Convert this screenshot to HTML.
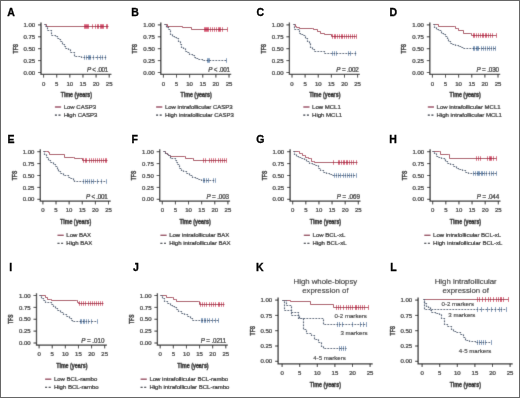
<!DOCTYPE html>
<html><head><meta charset="utf-8"><style>
html,body{margin:0;padding:0;background:#fff;}
svg{display:block;font-family:"Liberation Sans",sans-serif;}
#w{width:520px;height:398px;will-change:transform;}
text{fill:#222;stroke:#222;stroke-width:0.24px;}
text.t{stroke-width:0.12px;}
text.b{font-weight:bold;fill:#1a1a1a;stroke:#1a1a1a;stroke-width:0.38px;}
text.L{font-weight:bold;fill:#000;stroke:#000;stroke-width:0.3px;}
</style></head><body><div id="w">
<svg width="520" height="398" viewBox="0 0 520 398">
<defs><filter id="bl" x="0" y="0" width="520" height="398" filterUnits="userSpaceOnUse"><feConvolveMatrix order="3" kernelMatrix="0.02 0.12 0.02 0.12 1 0.12 0.02 0.12 0.02" preserveAlpha="true"/></filter></defs>
<g filter="url(#bl)">
<rect x="0" y="0" width="520" height="398" fill="#fff"/>
<path d="M41,22.4V74.4H111.4" fill="none" stroke="#2a2a2a" stroke-width="1.3"/>
<path d="M38,72.5H41M38,60.6H41M38,48.7H41M38,36.8H41M38,24.9H41M43.6,74.4V77.6M56.72,74.4V77.6M69.84,74.4V77.6M82.96,74.4V77.6M96.08,74.4V77.6M109.2,74.4V77.6" stroke="#2a2a2a" stroke-width="1"/>
<text x="35.1" y="74.65" text-anchor="end" font-size="6">0.00</text>
<text x="35.1" y="62.75" text-anchor="end" font-size="6">0.25</text>
<text x="35.1" y="50.85" text-anchor="end" font-size="6">0.50</text>
<text x="35.1" y="38.95" text-anchor="end" font-size="6">0.75</text>
<text x="35.1" y="27.05" text-anchor="end" font-size="6">1.00</text>
<text x="43.6" y="85.6" text-anchor="middle" font-size="6">0</text>
<text x="56.72" y="85.6" text-anchor="middle" font-size="6">5</text>
<text x="69.84" y="85.6" text-anchor="middle" font-size="6">10</text>
<text x="82.96" y="85.6" text-anchor="middle" font-size="6">15</text>
<text x="96.08" y="85.6" text-anchor="middle" font-size="6">20</text>
<text x="109.2" y="85.6" text-anchor="middle" font-size="6">25</text>
<text class="b" x="60.75" y="97.1" font-size="7.9" textLength="31.3" lengthAdjust="spacingAndGlyphs">Time (years)</text>
<text class="b" transform="translate(17.6,48.7) rotate(-90)" x="-4.7" y="0" font-size="7.9" textLength="9.4" lengthAdjust="spacingAndGlyphs">TFS</text>
<path d="M84.5,24.2v4.6M85.5,24.2v4.6M86.5,24.2v4.6M87.5,24.2v4.6M88.5,24.2v4.6M92.5,24.2v4.6M95.5,24.2v4.6M97.5,24.2v4.6M98.5,24.2v4.6M100.5,24.2v4.6M101.5,24.2v4.6M102.5,24.2v4.6M103.5,24.2v4.6M106.5,24.2v4.6M107.5,24.2v4.6" fill="none" stroke="#cc2248" stroke-width="0.75"/>
<path d="M44.5,24.5H46.5V26.5H108.5" fill="none" stroke="#a42a4a" stroke-width="1"/>
<path d="M84.5,55.2v4.6M86.5,55.2v4.6M88.5,55.2v4.6M89.5,55.2v4.6M90.5,55.2v4.6M93.5,55.2v4.6M97.5,55.2v4.6M100.5,55.2v4.6M102.5,55.2v4.6M105.5,55.2v4.6" fill="none" stroke="#4f78a6" stroke-width="0.75"/>
<path d="M44.5,24.5H45.5V26.5H47.5V29.5H47.5V30.5H49.5V30.5H51.5V32.5H51.5V35.5H53.5H55.5V36.5H57.5V38.5H59.5V39.5H60.5V41.5H62.5V44.5H64.5V46.5H65.5V48.5H68.5V49.5H70.5V52.5H73.5V52.5H74.5V56.5H80.5V56.5H81.5V57.5H106.5" fill="none" stroke="#223a5a" stroke-width="1.15" stroke-dasharray="1.7 1.3"/>
<text x="108.3" y="72.4" text-anchor="end" font-size="6.3" textLength="21.2" lengthAdjust="spacing"><tspan font-style="italic">P</tspan> &lt; .001</text>
<path d="M54.9,107h6.2" stroke="#8c2c48" stroke-width="1.3"/>
<path d="M54.9,115.1h6" stroke="#141c2a" stroke-width="1.3" stroke-dasharray="2 1.6"/>
<text x="63.7" y="109" font-size="6">Low CASP3</text>
<text x="63.7" y="117.1" font-size="6">High CASP3</text>
<path d="M160.8,22.4V74.4H231.2" fill="none" stroke="#2a2a2a" stroke-width="1.3"/>
<path d="M157.8,72.5H160.8M157.8,60.6H160.8M157.8,48.7H160.8M157.8,36.8H160.8M157.8,24.9H160.8M163.4,74.4V77.6M176.52,74.4V77.6M189.64,74.4V77.6M202.76,74.4V77.6M215.88,74.4V77.6M229,74.4V77.6" stroke="#2a2a2a" stroke-width="1"/>
<text x="154.9" y="74.65" text-anchor="end" font-size="6">0.00</text>
<text x="154.9" y="62.75" text-anchor="end" font-size="6">0.25</text>
<text x="154.9" y="50.85" text-anchor="end" font-size="6">0.50</text>
<text x="154.9" y="38.95" text-anchor="end" font-size="6">0.75</text>
<text x="154.9" y="27.05" text-anchor="end" font-size="6">1.00</text>
<text x="163.4" y="85.6" text-anchor="middle" font-size="6">0</text>
<text x="176.52" y="85.6" text-anchor="middle" font-size="6">5</text>
<text x="189.64" y="85.6" text-anchor="middle" font-size="6">10</text>
<text x="202.76" y="85.6" text-anchor="middle" font-size="6">15</text>
<text x="215.88" y="85.6" text-anchor="middle" font-size="6">20</text>
<text x="229" y="85.6" text-anchor="middle" font-size="6">25</text>
<text class="b" x="180.55" y="97.1" font-size="7.9" textLength="31.3" lengthAdjust="spacingAndGlyphs">Time (years)</text>
<text class="b" transform="translate(137.4,48.7) rotate(-90)" x="-4.7" y="0" font-size="7.9" textLength="9.4" lengthAdjust="spacingAndGlyphs">TFS</text>
<path d="M204.5,27.2v4.6M205.5,27.2v4.6M206.5,27.2v4.6M207.5,27.2v4.6M208.5,27.2v4.6M210.5,27.2v4.6M212.5,27.2v4.6M214.5,27.2v4.6M216.5,27.2v4.6M218.5,27.2v4.6M219.5,27.2v4.6M220.5,27.2v4.6M222.5,27.2v4.6M227.5,27.2v4.6" fill="none" stroke="#cc2248" stroke-width="0.75"/>
<path d="M164.5,24.5H167.5V26.5H182.5V27.5H191.5V29.5H227.5" fill="none" stroke="#a42a4a" stroke-width="1"/>
<path d="M207.5,58.2v4.6M208.5,58.2v4.6M209.5,58.2v4.6M226.5,58.2v4.6" fill="none" stroke="#4f78a6" stroke-width="0.75"/>
<path d="M164.5,24.5H166.5V27.5H168.5V29.5H170.5V34.5H172.5V36.5H174.5V37.5H176.5V38.5H178.5V41.5H180.5V44.5H181.5V47.5H183.5V48.5H185.5V49.5H185.5V51.5H187.5V52.5H189.5V54.5H192.5V55.5H194.5V57.5H195.5V58.5H198.5V59.5H202.5V60.5H226.5" fill="none" stroke="#223a5a" stroke-width="1.15" stroke-dasharray="1.7 1.3"/>
<text x="230.1" y="72.4" text-anchor="end" font-size="6.3" textLength="21.8" lengthAdjust="spacing"><tspan font-style="italic">P</tspan> &lt; .001</text>
<path d="M156.1,107h6.2" stroke="#8c2c48" stroke-width="1.3"/>
<path d="M156.1,115.1h6" stroke="#141c2a" stroke-width="1.3" stroke-dasharray="2 1.6"/>
<text x="164.9" y="109" font-size="6">Low intrafollicular CASP3</text>
<text x="164.9" y="117.1" font-size="6">High intrafollicular CASP3</text>
<path d="M289.4,22.4V74.4H359.8" fill="none" stroke="#2a2a2a" stroke-width="1.3"/>
<path d="M286.4,72.5H289.4M286.4,60.6H289.4M286.4,48.7H289.4M286.4,36.8H289.4M286.4,24.9H289.4M292,74.4V77.6M305.12,74.4V77.6M318.24,74.4V77.6M331.36,74.4V77.6M344.48,74.4V77.6M357.6,74.4V77.6" stroke="#2a2a2a" stroke-width="1"/>
<text x="283.5" y="74.65" text-anchor="end" font-size="6">0.00</text>
<text x="283.5" y="62.75" text-anchor="end" font-size="6">0.25</text>
<text x="283.5" y="50.85" text-anchor="end" font-size="6">0.50</text>
<text x="283.5" y="38.95" text-anchor="end" font-size="6">0.75</text>
<text x="283.5" y="27.05" text-anchor="end" font-size="6">1.00</text>
<text x="292" y="85.6" text-anchor="middle" font-size="6">0</text>
<text x="305.12" y="85.6" text-anchor="middle" font-size="6">5</text>
<text x="318.24" y="85.6" text-anchor="middle" font-size="6">10</text>
<text x="331.36" y="85.6" text-anchor="middle" font-size="6">15</text>
<text x="344.48" y="85.6" text-anchor="middle" font-size="6">20</text>
<text x="357.6" y="85.6" text-anchor="middle" font-size="6">25</text>
<text class="b" x="309.15" y="97.1" font-size="7.9" textLength="31.3" lengthAdjust="spacingAndGlyphs">Time (years)</text>
<text class="b" transform="translate(266,48.7) rotate(-90)" x="-4.7" y="0" font-size="7.9" textLength="9.4" lengthAdjust="spacingAndGlyphs">TFS</text>
<path d="M332.5,34.2v4.6M334.5,34.2v4.6M335.5,34.2v4.6M337.5,34.2v4.6M339.5,34.2v4.6M341.5,34.2v4.6M342.5,34.2v4.6M344.5,34.2v4.6M346.5,34.2v4.6M348.5,34.2v4.6M350.5,34.2v4.6M352.5,34.2v4.6M354.5,34.2v4.6M356.5,34.2v4.6" fill="none" stroke="#cc2248" stroke-width="0.75"/>
<path d="M293.5,24.5H295.5V26.5H296.5V27.5H299.5V28.5H312.5H313.5V29.5H317.5V31.5H320.5V33.5H324.5V34.5H331.5V36.5H356.5" fill="none" stroke="#a42a4a" stroke-width="1"/>
<path d="M332.5,51.2v4.6M334.5,51.2v4.6M336.5,51.2v4.6M348.5,51.2v4.6M350.5,51.2v4.6M355.5,51.2v4.6" fill="none" stroke="#4f78a6" stroke-width="0.75"/>
<path d="M293.5,24.5H294.5V29.5H299.5H299.5V33.5H300.5V34.5H303.5V35.5H305.5V38.5H307.5V41.5H309.5V43.5H310.5V47.5H312.5V49.5H314.5V51.5H323.5H324.5V53.5H356.5" fill="none" stroke="#223a5a" stroke-width="1.15" stroke-dasharray="1.7 1.3"/>
<text x="358.8" y="72.4" text-anchor="end" font-size="6.3" textLength="22.5" lengthAdjust="spacing"><tspan font-style="italic">P</tspan> = .002</text>
<path d="M303.3,107h6.2" stroke="#8c2c48" stroke-width="1.3"/>
<path d="M303.3,115.1h6" stroke="#141c2a" stroke-width="1.3" stroke-dasharray="2 1.6"/>
<text x="312.1" y="109" font-size="6">Low MCL1</text>
<text x="312.1" y="117.1" font-size="6">High MCL1</text>
<path d="M429.8,22.4V74.4H500.2" fill="none" stroke="#2a2a2a" stroke-width="1.3"/>
<path d="M426.8,72.5H429.8M426.8,60.6H429.8M426.8,48.7H429.8M426.8,36.8H429.8M426.8,24.9H429.8M432.4,74.4V77.6M445.52,74.4V77.6M458.64,74.4V77.6M471.76,74.4V77.6M484.88,74.4V77.6M498,74.4V77.6" stroke="#2a2a2a" stroke-width="1"/>
<text x="423.9" y="74.65" text-anchor="end" font-size="6">0.00</text>
<text x="423.9" y="62.75" text-anchor="end" font-size="6">0.25</text>
<text x="423.9" y="50.85" text-anchor="end" font-size="6">0.50</text>
<text x="423.9" y="38.95" text-anchor="end" font-size="6">0.75</text>
<text x="423.9" y="27.05" text-anchor="end" font-size="6">1.00</text>
<text x="432.4" y="85.6" text-anchor="middle" font-size="6">0</text>
<text x="445.52" y="85.6" text-anchor="middle" font-size="6">5</text>
<text x="458.64" y="85.6" text-anchor="middle" font-size="6">10</text>
<text x="471.76" y="85.6" text-anchor="middle" font-size="6">15</text>
<text x="484.88" y="85.6" text-anchor="middle" font-size="6">20</text>
<text x="498" y="85.6" text-anchor="middle" font-size="6">25</text>
<text class="b" x="449.55" y="97.1" font-size="7.9" textLength="31.3" lengthAdjust="spacingAndGlyphs">Time (years)</text>
<text class="b" transform="translate(406.4,48.7) rotate(-90)" x="-4.7" y="0" font-size="7.9" textLength="9.4" lengthAdjust="spacingAndGlyphs">TFS</text>
<path d="M473.5,33.2v4.6M474.5,33.2v4.6M476.5,33.2v4.6M478.5,33.2v4.6M480.5,33.2v4.6M482.5,33.2v4.6M483.5,33.2v4.6M485.5,33.2v4.6M486.5,33.2v4.6M488.5,33.2v4.6M490.5,33.2v4.6M492.5,33.2v4.6M496.5,33.2v4.6" fill="none" stroke="#cc2248" stroke-width="0.75"/>
<path d="M433.5,24.5H438.5H438.5V26.5H454.5H455.5V28.5H457.5H458.5V30.5H463.5H463.5V33.5H470.5H471.5V35.5H496.5" fill="none" stroke="#a42a4a" stroke-width="1"/>
<path d="M473.5,46.2v4.6M474.5,46.2v4.6M476.5,46.2v4.6M477.5,46.2v4.6M478.5,46.2v4.6M481.5,46.2v4.6M483.5,46.2v4.6M485.5,46.2v4.6M487.5,46.2v4.6M489.5,46.2v4.6M491.5,46.2v4.6M493.5,46.2v4.6M495.5,46.2v4.6" fill="none" stroke="#4f78a6" stroke-width="0.75"/>
<path d="M433.5,24.5H434.5V27.5H436.5V29.5H438.5V30.5H441.5V33.5H443.5V34.5H445.5V36.5H447.5V38.5H448.5V41.5H450.5V43.5H452.5V44.5H455.5V45.5H458.5V46.5H461.5V47.5H463.5V48.5H464.5V48.5H495.5" fill="none" stroke="#223a5a" stroke-width="1.15" stroke-dasharray="1.7 1.3"/>
<text x="499" y="72.4" text-anchor="end" font-size="6.3" textLength="22.5" lengthAdjust="spacing"><tspan font-style="italic">P</tspan> = .030</text>
<path d="M427.8,107h6.2" stroke="#8c2c48" stroke-width="1.3"/>
<path d="M427.8,115.1h6" stroke="#141c2a" stroke-width="1.3" stroke-dasharray="2 1.6"/>
<text x="436.6" y="109" font-size="6">Low intrafollicular MCL1</text>
<text x="436.6" y="117.1" font-size="6">High intrafollicular MCL1</text>
<path d="M40.3,149.2V201.2H110.7" fill="none" stroke="#2a2a2a" stroke-width="1.3"/>
<path d="M37.3,199.3H40.3M37.3,187.4H40.3M37.3,175.5H40.3M37.3,163.6H40.3M37.3,151.7H40.3M42.9,201.2V204.4M56.02,201.2V204.4M69.14,201.2V204.4M82.26,201.2V204.4M95.38,201.2V204.4M108.5,201.2V204.4" stroke="#2a2a2a" stroke-width="1"/>
<text x="34.4" y="201.45" text-anchor="end" font-size="6">0.00</text>
<text x="34.4" y="189.55" text-anchor="end" font-size="6">0.25</text>
<text x="34.4" y="177.65" text-anchor="end" font-size="6">0.50</text>
<text x="34.4" y="165.75" text-anchor="end" font-size="6">0.75</text>
<text x="34.4" y="153.85" text-anchor="end" font-size="6">1.00</text>
<text x="42.9" y="212.4" text-anchor="middle" font-size="6">0</text>
<text x="56.02" y="212.4" text-anchor="middle" font-size="6">5</text>
<text x="69.14" y="212.4" text-anchor="middle" font-size="6">10</text>
<text x="82.26" y="212.4" text-anchor="middle" font-size="6">15</text>
<text x="95.38" y="212.4" text-anchor="middle" font-size="6">20</text>
<text x="108.5" y="212.4" text-anchor="middle" font-size="6">25</text>
<text class="b" x="60.05" y="223.9" font-size="7.9" textLength="31.3" lengthAdjust="spacingAndGlyphs">Time (years)</text>
<text class="b" transform="translate(16.9,175.5) rotate(-90)" x="-4.7" y="0" font-size="7.9" textLength="9.4" lengthAdjust="spacingAndGlyphs">TFS</text>
<path d="M83.5,158.2v4.6M85.5,158.2v4.6M86.5,158.2v4.6M89.5,158.2v4.6M91.5,158.2v4.6M93.5,158.2v4.6M95.5,158.2v4.6M97.5,158.2v4.6M99.5,158.2v4.6M101.5,158.2v4.6M103.5,158.2v4.6M105.5,158.2v4.6M106.5,158.2v4.6" fill="none" stroke="#cc2248" stroke-width="0.75"/>
<path d="M43.5,151.5H46.5V151.5H48.5V152.5H49.5V154.5H64.5H64.5V157.5H73.5H74.5V158.5H80.5H82.5V160.5H107.5" fill="none" stroke="#a42a4a" stroke-width="1"/>
<path d="M83.5,179.2v4.6M85.5,179.2v4.6M87.5,179.2v4.6M89.5,179.2v4.6M91.5,179.2v4.6M93.5,179.2v4.6M97.5,179.2v4.6M101.5,179.2v4.6M106.5,179.2v4.6" fill="none" stroke="#4f78a6" stroke-width="0.75"/>
<path d="M43.5,151.5H44.5V154.5H46.5V157.5H48.5V160.5H50.5V162.5H53.5V164.5H55.5V166.5H57.5V169.5H58.5V171.5H60.5V173.5H63.5V175.5H66.5V175.5H68.5V177.5H70.5V178.5H73.5V180.5H74.5V181.5H106.5" fill="none" stroke="#223a5a" stroke-width="1.15" stroke-dasharray="1.7 1.3"/>
<text x="107.7" y="199.2" text-anchor="end" font-size="6.3" textLength="21.7" lengthAdjust="spacing"><tspan font-style="italic">P</tspan> &lt; .001</text>
<path d="M57.5,235.3h6.2" stroke="#8c2c48" stroke-width="1.3"/>
<path d="M57.5,243.4h6" stroke="#141c2a" stroke-width="1.3" stroke-dasharray="2 1.6"/>
<text x="66.3" y="237.3" font-size="6">Low BAX</text>
<text x="66.3" y="245.4" font-size="6">High BAX</text>
<path d="M159.7,149.2V201.2H230.1" fill="none" stroke="#2a2a2a" stroke-width="1.3"/>
<path d="M156.7,199.3H159.7M156.7,187.4H159.7M156.7,175.5H159.7M156.7,163.6H159.7M156.7,151.7H159.7M162.3,201.2V204.4M175.42,201.2V204.4M188.54,201.2V204.4M201.66,201.2V204.4M214.78,201.2V204.4M227.9,201.2V204.4" stroke="#2a2a2a" stroke-width="1"/>
<text x="153.8" y="201.45" text-anchor="end" font-size="6">0.00</text>
<text x="153.8" y="189.55" text-anchor="end" font-size="6">0.25</text>
<text x="153.8" y="177.65" text-anchor="end" font-size="6">0.50</text>
<text x="153.8" y="165.75" text-anchor="end" font-size="6">0.75</text>
<text x="153.8" y="153.85" text-anchor="end" font-size="6">1.00</text>
<text x="162.3" y="212.4" text-anchor="middle" font-size="6">0</text>
<text x="175.42" y="212.4" text-anchor="middle" font-size="6">5</text>
<text x="188.54" y="212.4" text-anchor="middle" font-size="6">10</text>
<text x="201.66" y="212.4" text-anchor="middle" font-size="6">15</text>
<text x="214.78" y="212.4" text-anchor="middle" font-size="6">20</text>
<text x="227.9" y="212.4" text-anchor="middle" font-size="6">25</text>
<text class="b" x="179.45" y="223.9" font-size="7.9" textLength="31.3" lengthAdjust="spacingAndGlyphs">Time (years)</text>
<text class="b" transform="translate(136.3,175.5) rotate(-90)" x="-4.7" y="0" font-size="7.9" textLength="9.4" lengthAdjust="spacingAndGlyphs">TFS</text>
<path d="M203.5,158.2v4.6M205.5,158.2v4.6M209.5,158.2v4.6M211.5,158.2v4.6M213.5,158.2v4.6M215.5,158.2v4.6M218.5,158.2v4.6M220.5,158.2v4.6M222.5,158.2v4.6M224.5,158.2v4.6M226.5,158.2v4.6" fill="none" stroke="#cc2248" stroke-width="0.75"/>
<path d="M163.5,151.5H165.5V153.5H167.5V154.5H168.5V155.5H170.5V156.5H184.5H185.5V158.5H192.5H193.5V160.5H226.5" fill="none" stroke="#a42a4a" stroke-width="1"/>
<path d="M203.5,178.2v4.6M204.5,178.2v4.6M206.5,178.2v4.6M208.5,178.2v4.6M213.5,178.2v4.6M215.5,178.2v4.6" fill="none" stroke="#4f78a6" stroke-width="0.75"/>
<path d="M163.5,151.5H165.5V153.5H167.5V154.5H168.5V155.5H170.5V158.5H173.5V158.5H175.5V160.5H176.5V162.5H177.5V164.5H179.5V168.5H181.5V170.5H183.5V171.5H186.5V173.5H189.5V175.5H192.5V177.5H195.5V178.5H198.5V179.5H201.5V180.5H215.5" fill="none" stroke="#223a5a" stroke-width="1.15" stroke-dasharray="1.7 1.3"/>
<text x="229" y="199.2" text-anchor="end" font-size="6.3" textLength="22.5" lengthAdjust="spacing"><tspan font-style="italic">P</tspan> = .003</text>
<path d="M160.4,235.3h6.2" stroke="#8c2c48" stroke-width="1.3"/>
<path d="M160.4,243.4h6" stroke="#141c2a" stroke-width="1.3" stroke-dasharray="2 1.6"/>
<text x="169.2" y="237.3" font-size="6">Low intrafollicular BAX</text>
<text x="169.2" y="245.4" font-size="6">High intrafollicular BAX</text>
<path d="M290.1,149.2V201.2H360.5" fill="none" stroke="#2a2a2a" stroke-width="1.3"/>
<path d="M287.1,199.3H290.1M287.1,187.4H290.1M287.1,175.5H290.1M287.1,163.6H290.1M287.1,151.7H290.1M292.7,201.2V204.4M305.82,201.2V204.4M318.94,201.2V204.4M332.06,201.2V204.4M345.18,201.2V204.4M358.3,201.2V204.4" stroke="#2a2a2a" stroke-width="1"/>
<text x="284.2" y="201.45" text-anchor="end" font-size="6">0.00</text>
<text x="284.2" y="189.55" text-anchor="end" font-size="6">0.25</text>
<text x="284.2" y="177.65" text-anchor="end" font-size="6">0.50</text>
<text x="284.2" y="165.75" text-anchor="end" font-size="6">0.75</text>
<text x="284.2" y="153.85" text-anchor="end" font-size="6">1.00</text>
<text x="292.7" y="212.4" text-anchor="middle" font-size="6">0</text>
<text x="305.82" y="212.4" text-anchor="middle" font-size="6">5</text>
<text x="318.94" y="212.4" text-anchor="middle" font-size="6">10</text>
<text x="332.06" y="212.4" text-anchor="middle" font-size="6">15</text>
<text x="345.18" y="212.4" text-anchor="middle" font-size="6">20</text>
<text x="358.3" y="212.4" text-anchor="middle" font-size="6">25</text>
<text class="b" x="309.85" y="223.9" font-size="7.9" textLength="31.3" lengthAdjust="spacingAndGlyphs">Time (years)</text>
<text class="b" transform="translate(266.7,175.5) rotate(-90)" x="-4.7" y="0" font-size="7.9" textLength="9.4" lengthAdjust="spacingAndGlyphs">TFS</text>
<path d="M333.5,160.2v4.6M338.5,160.2v4.6M339.5,160.2v4.6M341.5,160.2v4.6M343.5,160.2v4.6M344.5,160.2v4.6M346.5,160.2v4.6M347.5,160.2v4.6M349.5,160.2v4.6M351.5,160.2v4.6M353.5,160.2v4.6M356.5,160.2v4.6" fill="none" stroke="#cc2248" stroke-width="0.75"/>
<path d="M293.5,151.5H298.5H299.5V153.5H301.5H302.5V155.5H304.5H305.5V157.5H307.5H308.5V158.5H310.5H311.5V161.5H313.5H314.5V162.5H357.5" fill="none" stroke="#a42a4a" stroke-width="1"/>
<path d="M334.5,173.2v4.6M336.5,173.2v4.6M338.5,173.2v4.6M340.5,173.2v4.6M343.5,173.2v4.6M345.5,173.2v4.6M347.5,173.2v4.6M349.5,173.2v4.6M351.5,173.2v4.6M353.5,173.2v4.6M356.5,173.2v4.6" fill="none" stroke="#4f78a6" stroke-width="0.75"/>
<path d="M293.5,151.5H294.5V154.5H296.5V156.5H298.5V157.5H301.5V158.5H304.5V159.5H306.5V161.5H309.5V163.5H312.5V164.5H315.5V165.5H318.5V168.5H320.5V170.5H323.5V172.5H326.5V173.5H329.5V174.5H332.5V175.5H356.5" fill="none" stroke="#223a5a" stroke-width="1.15" stroke-dasharray="1.7 1.3"/>
<text x="360" y="199.2" text-anchor="end" font-size="6.3" textLength="23.2" lengthAdjust="spacing"><tspan font-style="italic">P</tspan> = .069</text>
<path d="M303.8,235.3h6.2" stroke="#8c2c48" stroke-width="1.3"/>
<path d="M303.8,243.4h6" stroke="#141c2a" stroke-width="1.3" stroke-dasharray="2 1.6"/>
<text x="312.6" y="237.3" font-size="6">Low BCL-xL</text>
<text x="312.6" y="245.4" font-size="6">High BCL-xL</text>
<path d="M430.1,149.2V201.2H500.5" fill="none" stroke="#2a2a2a" stroke-width="1.3"/>
<path d="M427.1,199.3H430.1M427.1,187.4H430.1M427.1,175.5H430.1M427.1,163.6H430.1M427.1,151.7H430.1M432.7,201.2V204.4M445.82,201.2V204.4M458.94,201.2V204.4M472.06,201.2V204.4M485.18,201.2V204.4M498.3,201.2V204.4" stroke="#2a2a2a" stroke-width="1"/>
<text x="424.2" y="201.45" text-anchor="end" font-size="6">0.00</text>
<text x="424.2" y="189.55" text-anchor="end" font-size="6">0.25</text>
<text x="424.2" y="177.65" text-anchor="end" font-size="6">0.50</text>
<text x="424.2" y="165.75" text-anchor="end" font-size="6">0.75</text>
<text x="424.2" y="153.85" text-anchor="end" font-size="6">1.00</text>
<text x="432.7" y="212.4" text-anchor="middle" font-size="6">0</text>
<text x="445.82" y="212.4" text-anchor="middle" font-size="6">5</text>
<text x="458.94" y="212.4" text-anchor="middle" font-size="6">10</text>
<text x="472.06" y="212.4" text-anchor="middle" font-size="6">15</text>
<text x="485.18" y="212.4" text-anchor="middle" font-size="6">20</text>
<text x="498.3" y="212.4" text-anchor="middle" font-size="6">25</text>
<text class="b" x="449.85" y="223.9" font-size="7.9" textLength="31.3" lengthAdjust="spacingAndGlyphs">Time (years)</text>
<text class="b" transform="translate(406.7,175.5) rotate(-90)" x="-4.7" y="0" font-size="7.9" textLength="9.4" lengthAdjust="spacingAndGlyphs">TFS</text>
<path d="M476.5,156.2v4.6M478.5,156.2v4.6M480.5,156.2v4.6M487.5,156.2v4.6M489.5,156.2v4.6M490.5,156.2v4.6M491.5,156.2v4.6M493.5,156.2v4.6M496.5,156.2v4.6" fill="none" stroke="#cc2248" stroke-width="0.75"/>
<path d="M432.5,151.5H439.5H440.5V154.5H448.5H449.5V158.5H496.5" fill="none" stroke="#a42a4a" stroke-width="1"/>
<path d="M473.5,171.2v4.6M475.5,171.2v4.6M477.5,171.2v4.6M478.5,171.2v4.6M479.5,171.2v4.6M481.5,171.2v4.6M482.5,171.2v4.6M484.5,171.2v4.6M486.5,171.2v4.6M489.5,171.2v4.6M491.5,171.2v4.6M493.5,171.2v4.6M496.5,171.2v4.6" fill="none" stroke="#4f78a6" stroke-width="0.75"/>
<path d="M432.5,151.5H434.5V153.5H436.5V156.5H438.5V157.5H441.5V158.5H444.5V159.5H445.5V161.5H447.5V163.5H450.5V164.5H453.5V166.5H456.5V168.5H458.5V169.5H462.5V170.5H465.5V172.5H468.5V173.5H472.5V173.5H496.5" fill="none" stroke="#223a5a" stroke-width="1.15" stroke-dasharray="1.7 1.3"/>
<text x="499.2" y="199.2" text-anchor="end" font-size="6.3" textLength="22.4" lengthAdjust="spacing"><tspan font-style="italic">P</tspan> = .044</text>
<path d="M424.3,235.3h6.2" stroke="#8c2c48" stroke-width="1.3"/>
<path d="M424.3,243.4h6" stroke="#141c2a" stroke-width="1.3" stroke-dasharray="2 1.6"/>
<text x="433.1" y="237.3" font-size="6">Low intrafollicular BCL-xL</text>
<text x="433.1" y="245.4" font-size="6">High intrafollicular BCL-xL</text>
<path d="M36.5,293.2V345.2H106.9" fill="none" stroke="#2a2a2a" stroke-width="1.3"/>
<path d="M33.5,343H36.5M33.5,331.12H36.5M33.5,319.25H36.5M33.5,307.38H36.5M33.5,295.5H36.5M39.1,345.2V348.4M52.22,345.2V348.4M65.34,345.2V348.4M78.46,345.2V348.4M91.58,345.2V348.4M104.7,345.2V348.4" stroke="#2a2a2a" stroke-width="1"/>
<text x="30.6" y="345.15" text-anchor="end" font-size="6">0.00</text>
<text x="30.6" y="333.27" text-anchor="end" font-size="6">0.25</text>
<text x="30.6" y="321.4" text-anchor="end" font-size="6">0.50</text>
<text x="30.6" y="309.52" text-anchor="end" font-size="6">0.75</text>
<text x="30.6" y="297.65" text-anchor="end" font-size="6">1.00</text>
<text x="39.1" y="356.4" text-anchor="middle" font-size="6">0</text>
<text x="52.22" y="356.4" text-anchor="middle" font-size="6">5</text>
<text x="65.34" y="356.4" text-anchor="middle" font-size="6">10</text>
<text x="78.46" y="356.4" text-anchor="middle" font-size="6">15</text>
<text x="91.58" y="356.4" text-anchor="middle" font-size="6">20</text>
<text x="104.7" y="356.4" text-anchor="middle" font-size="6">25</text>
<text class="b" x="56.25" y="367.9" font-size="7.9" textLength="31.3" lengthAdjust="spacingAndGlyphs">Time (years)</text>
<text class="b" transform="translate(13.1,319.25) rotate(-90)" x="-4.7" y="0" font-size="7.9" textLength="9.4" lengthAdjust="spacingAndGlyphs">TFS</text>
<path d="M79.5,301.2v4.6M81.5,301.2v4.6M83.5,301.2v4.6M85.5,301.2v4.6M88.5,301.2v4.6M90.5,301.2v4.6M92.5,301.2v4.6M94.5,301.2v4.6M96.5,301.2v4.6M98.5,301.2v4.6M100.5,301.2v4.6M102.5,301.2v4.6" fill="none" stroke="#cc2248" stroke-width="0.75"/>
<path d="M39.5,295.5H45.5H45.5V297.5H47.5V299.5H50.5H51.5V300.5H76.5H77.5V302.5H78.5V303.5H103.5" fill="none" stroke="#a42a4a" stroke-width="1"/>
<path d="M80.5,319.2v4.6M81.5,319.2v4.6M83.5,319.2v4.6M84.5,319.2v4.6M86.5,319.2v4.6M88.5,319.2v4.6M91.5,319.2v4.6M97.5,319.2v4.6" fill="none" stroke="#4f78a6" stroke-width="0.75"/>
<path d="M39.5,295.5H41.5V298.5H43.5V300.5H45.5V302.5H47.5V302.5H51.5V304.5H53.5V306.5H55.5V308.5H57.5V310.5H60.5V312.5H63.5V314.5H66.5V316.5H69.5V318.5H71.5V320.5H72.5V321.5H97.5" fill="none" stroke="#223a5a" stroke-width="1.15" stroke-dasharray="1.7 1.3"/>
<text x="104.5" y="342.5" text-anchor="end" font-size="6.3" textLength="23.3" lengthAdjust="spacing"><tspan font-style="italic">P</tspan> = .010</text>
<path d="M45.1,379.2h6.2" stroke="#8c2c48" stroke-width="1.3"/>
<path d="M45.1,387.3h6" stroke="#141c2a" stroke-width="1.3" stroke-dasharray="2 1.6"/>
<text x="53.9" y="381.2" font-size="6">Low BCL-rambo</text>
<text x="53.9" y="389.3" font-size="6">High BCL-rambo</text>
<path d="M157.4,293.2V345.2H227.8" fill="none" stroke="#2a2a2a" stroke-width="1.3"/>
<path d="M154.4,343H157.4M154.4,331.12H157.4M154.4,319.25H157.4M154.4,307.38H157.4M154.4,295.5H157.4M160.2,345.2V348.4M173.32,345.2V348.4M186.44,345.2V348.4M199.56,345.2V348.4M212.68,345.2V348.4M225.8,345.2V348.4" stroke="#2a2a2a" stroke-width="1"/>
<text x="151.5" y="345.15" text-anchor="end" font-size="6">0.00</text>
<text x="151.5" y="333.27" text-anchor="end" font-size="6">0.25</text>
<text x="151.5" y="321.4" text-anchor="end" font-size="6">0.50</text>
<text x="151.5" y="309.52" text-anchor="end" font-size="6">0.75</text>
<text x="151.5" y="297.65" text-anchor="end" font-size="6">1.00</text>
<text x="160.2" y="356.4" text-anchor="middle" font-size="6">0</text>
<text x="173.32" y="356.4" text-anchor="middle" font-size="6">5</text>
<text x="186.44" y="356.4" text-anchor="middle" font-size="6">10</text>
<text x="199.56" y="356.4" text-anchor="middle" font-size="6">15</text>
<text x="212.68" y="356.4" text-anchor="middle" font-size="6">20</text>
<text x="225.8" y="356.4" text-anchor="middle" font-size="6">25</text>
<text class="b" x="177.35" y="367.9" font-size="7.9" textLength="31.3" lengthAdjust="spacingAndGlyphs">Time (years)</text>
<text class="b" transform="translate(134,319.25) rotate(-90)" x="-4.7" y="0" font-size="7.9" textLength="9.4" lengthAdjust="spacingAndGlyphs">TFS</text>
<path d="M200.5,302.2v4.6M202.5,302.2v4.6M204.5,302.2v4.6M206.5,302.2v4.6M209.5,302.2v4.6M211.5,302.2v4.6M213.5,302.2v4.6M215.5,302.2v4.6M218.5,302.2v4.6M219.5,302.2v4.6M221.5,302.2v4.6M223.5,302.2v4.6" fill="none" stroke="#cc2248" stroke-width="0.75"/>
<path d="M160.5,295.5H166.5H166.5V297.5H172.5H173.5V299.5H175.5H176.5V301.5H198.5H199.5V304.5H224.5" fill="none" stroke="#a42a4a" stroke-width="1"/>
<path d="M201.5,318.2v4.6M202.5,318.2v4.6M204.5,318.2v4.6M205.5,318.2v4.6M207.5,318.2v4.6M209.5,318.2v4.6M212.5,318.2v4.6M215.5,318.2v4.6M218.5,318.2v4.6" fill="none" stroke="#4f78a6" stroke-width="0.75"/>
<path d="M160.5,295.5H162.5V298.5H164.5V301.5H167.5V303.5H170.5V305.5H172.5V306.5H174.5V307.5H176.5V309.5H178.5V311.5H181.5V313.5H184.5V314.5H187.5V316.5H190.5V318.5H192.5V320.5H218.5" fill="none" stroke="#223a5a" stroke-width="1.15" stroke-dasharray="1.7 1.3"/>
<text x="226.2" y="342.5" text-anchor="end" font-size="6.3" textLength="25.5" lengthAdjust="spacing"><tspan font-style="italic">P</tspan> = .0211</text>
<path d="M140.6,379.2h6.2" stroke="#8c2c48" stroke-width="1.3"/>
<path d="M140.6,387.3h6" stroke="#141c2a" stroke-width="1.3" stroke-dasharray="2 1.6"/>
<text x="149.4" y="381.2" font-size="6">Low intrafollicular BCL-rambo</text>
<text x="149.4" y="389.3" font-size="6">High intrafollicular BCL-rambo</text>
<path d="M278.1,297.5V363.8H372.7" fill="none" stroke="#2a2a2a" stroke-width="1.3"/>
<path d="M275.1,361.3H278.1M275.1,346H278.1M275.1,330.7H278.1M275.1,315.4H278.1M275.1,300.1H278.1M282.1,363.8V367M299.7,363.8V367M317.3,363.8V367M334.9,363.8V367M352.5,363.8V367M370.1,363.8V367" stroke="#2a2a2a" stroke-width="1"/>
<text x="272.2" y="363.45" text-anchor="end" font-size="6">0.00</text>
<text x="272.2" y="348.15" text-anchor="end" font-size="6">0.25</text>
<text x="272.2" y="332.85" text-anchor="end" font-size="6">0.50</text>
<text x="272.2" y="317.55" text-anchor="end" font-size="6">0.75</text>
<text x="272.2" y="302.25" text-anchor="end" font-size="6">1.00</text>
<text x="282.1" y="375" text-anchor="middle" font-size="6">0</text>
<text x="299.7" y="375" text-anchor="middle" font-size="6">5</text>
<text x="317.3" y="375" text-anchor="middle" font-size="6">10</text>
<text x="334.9" y="375" text-anchor="middle" font-size="6">15</text>
<text x="352.5" y="375" text-anchor="middle" font-size="6">20</text>
<text x="370.1" y="375" text-anchor="middle" font-size="6">25</text>
<text class="b" x="309.65" y="386.5" font-size="7.9" textLength="31.3" lengthAdjust="spacingAndGlyphs">Time (years)</text>
<text class="b" transform="translate(254.7,330.7) rotate(-90)" x="-4.7" y="0" font-size="7.9" textLength="9.4" lengthAdjust="spacingAndGlyphs">TFS</text>
<path d="M336.5,305v5M338.5,305v5M340.5,305v5M343.5,305v5M346.5,305v5M348.5,305v5M350.5,305v5M352.5,305v5M355.5,305v5M356.5,305v5M358.5,305v5M360.5,305v5M362.5,305v5M364.5,305v5M368.5,305v5" fill="none" stroke="#cc2248" stroke-width="0.75"/>
<path d="M282.5,300.5H290.5V301.5H310.5V304.5H333.5V307.5H368.5" fill="none" stroke="#a42a4a" stroke-width="1"/>
<path d="M337.5,322v5M339.5,322v5M342.5,322v5M352.5,322v5M360.5,322v5M363.5,322v5M366.5,322v5" fill="none" stroke="#4f78a6" stroke-width="0.75"/>
<path d="M282.5,300.5H286.5V305.5H291.5V312.5H298.5V318.5H323.5V324.5H366.5" fill="none" stroke="#223a5a" stroke-width="1.15" stroke-dasharray="1.7 1.3"/>
<path d="M339.5,346v5M341.5,346v5M343.5,346v5M345.5,346v5" fill="none" stroke="#4f78a6" stroke-width="0.75"/>
<path d="M282.5,300.5H284.5V305.5H284.5V310.5H291.5V315.5H299.5V318.5H303.5V329.5H306.5V333.5H311.5V335.5H314.5V339.5H318.5V342.5H321.5V346.5H323.5V348.5H346.5" fill="none" stroke="#223a5a" stroke-width="1.15" stroke-dasharray="1.7 1.3"/>
<path d="M418.1,297.5V363.8H512.7" fill="none" stroke="#2a2a2a" stroke-width="1.3"/>
<path d="M415.1,361.3H418.1M415.1,346H418.1M415.1,330.7H418.1M415.1,315.4H418.1M415.1,300.1H418.1M422.1,363.8V367M439.7,363.8V367M457.3,363.8V367M474.9,363.8V367M492.5,363.8V367M510.1,363.8V367" stroke="#2a2a2a" stroke-width="1"/>
<text x="412.2" y="363.45" text-anchor="end" font-size="6">0.00</text>
<text x="412.2" y="348.15" text-anchor="end" font-size="6">0.25</text>
<text x="412.2" y="332.85" text-anchor="end" font-size="6">0.50</text>
<text x="412.2" y="317.55" text-anchor="end" font-size="6">0.75</text>
<text x="412.2" y="302.25" text-anchor="end" font-size="6">1.00</text>
<text x="422.1" y="375" text-anchor="middle" font-size="6">0</text>
<text x="439.7" y="375" text-anchor="middle" font-size="6">5</text>
<text x="457.3" y="375" text-anchor="middle" font-size="6">10</text>
<text x="474.9" y="375" text-anchor="middle" font-size="6">15</text>
<text x="492.5" y="375" text-anchor="middle" font-size="6">20</text>
<text x="510.1" y="375" text-anchor="middle" font-size="6">25</text>
<text class="b" x="449.65" y="386.5" font-size="7.9" textLength="31.3" lengthAdjust="spacingAndGlyphs">Time (years)</text>
<text class="b" transform="translate(394.7,330.7) rotate(-90)" x="-4.7" y="0" font-size="7.9" textLength="9.4" lengthAdjust="spacingAndGlyphs">TFS</text>
<path d="M477.5,297v5M479.5,297v5M482.5,297v5M485.5,297v5M488.5,297v5M490.5,297v5M493.5,297v5M496.5,297v5M498.5,297v5M500.5,297v5M501.5,297v5M503.5,297v5M508.5,297v5" fill="none" stroke="#cc2248" stroke-width="0.75"/>
<path d="M423.5,299.5H508.5" fill="none" stroke="#a42a4a" stroke-width="1"/>
<path d="M477.5,307v5M481.5,307v5M487.5,307v5M491.5,307v5M495.5,307v5M499.5,307v5M501.5,307v5M506.5,307v5" fill="none" stroke="#4f78a6" stroke-width="0.75"/>
<path d="M423.5,299.5H424.5H424.5V309.5H506.5" fill="none" stroke="#223a5a" stroke-width="1.15" stroke-dasharray="1.7 1.3"/>
<path d="M477.5,340v5M479.5,340v5M481.5,340v5M483.5,340v5M485.5,340v5M491.5,340v5" fill="none" stroke="#4f78a6" stroke-width="0.75"/>
<path d="M423.5,299.5H424.5V303.5H426.5V306.5H428.5V307.5H430.5V310.5H431.5V312.5H435.5V313.5H439.5V314.5H441.5V318.5H444.5V324.5H447.5V326.5H451.5V329.5H453.5V331.5H456.5V332.5H460.5V334.5H463.5V337.5H465.5V340.5H469.5V341.5H475.5V342.5H491.5" fill="none" stroke="#223a5a" stroke-width="1.15" stroke-dasharray="1.7 1.3"/>

<text class="t" x="325.4" y="284.2" text-anchor="middle" font-size="7.8">High whole-biopsy</text>
<text class="t" x="325.4" y="293.3" text-anchor="middle" font-size="7.8">expression of</text>
<text class="t" x="465.7" y="284.2" text-anchor="middle" font-size="7.8">High intrafollicular</text>
<text class="t" x="465.7" y="293.3" text-anchor="middle" font-size="7.8">expression of</text>
<text class="t" x="334.4" y="318.1" font-size="6.1">0-2 markers</text>
<text class="t" x="340.4" y="335.4" font-size="6.1">3 markers</text>
<text class="t" x="313.3" y="359.9" font-size="6.1">4-5 markers</text>
<text class="t" x="441.5" y="306.3" font-size="6.1">0-2 markers</text>
<text class="t" x="448.3" y="316.8" font-size="6.1">3 markers</text>
<text class="t" x="458.8" y="352.9" font-size="6.1">4-5 markers</text>

</g>
<text class="L" x="7.2" y="15.5" font-size="10.5">A</text>
<text class="L" x="131.3" y="15.5" font-size="10.5">B</text>
<text class="L" x="256.6" y="15.5" font-size="10.5">C</text>
<text class="L" x="389.5" y="15.5" font-size="10.5">D</text>
<text class="L" x="7.5" y="142.6" font-size="10.5">E</text>
<text class="L" x="131.5" y="142.6" font-size="10.5">F</text>
<text class="L" x="256.2" y="142.6" font-size="10.5">G</text>
<text class="L" x="389.3" y="142.6" font-size="10.5">H</text>
<text class="L" x="9.2" y="270.7" font-size="10.5">I</text>
<text class="L" x="132.9" y="270.7" font-size="10.5">J</text>
<text class="L" x="256.1" y="270.7" font-size="10.5">K</text>
<text class="L" x="390.3" y="270.7" font-size="10.5">L</text>
<rect x="0.5" y="0.5" width="519" height="397" fill="none" stroke="#666" stroke-width="1"/>
</svg></div>
</body></html>
